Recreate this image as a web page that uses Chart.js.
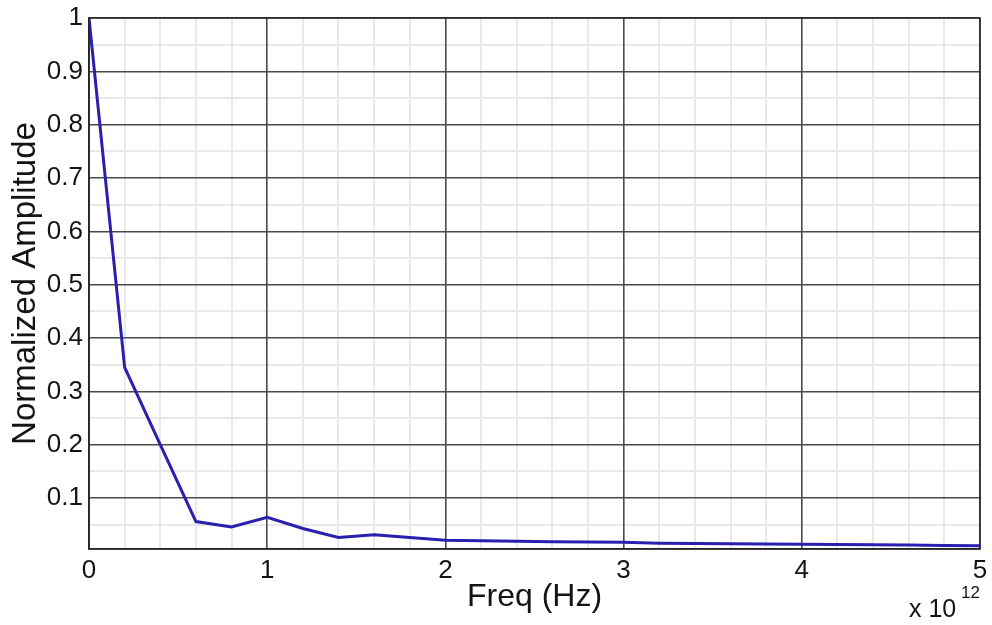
<!DOCTYPE html>
<html>
<head>
<meta charset="utf-8">
<title>Normalized Amplitude vs Frequency</title>
<script src="https://cdn.jsdelivr.net/npm/chart.js@4.4.1/dist/chart.umd.min.js"></script>
<style>
  html, body { margin: 0; padding: 0; background: #ffffff; }
  #wrap { width: 992px; height: 625px; }
</style>
</head>
<body>
<div id="wrap"><canvas id="spectrum" width="992" height="625"></canvas></div>
<script>
// Frequency samples, in units of 10^12 Hz
const freq = [0, 0.2, 0.4, 0.6, 0.8, 1.0, 1.2, 1.4, 1.6, 1.8, 2.0, 2.2, 2.4, 2.6,
              2.8, 3.0, 3.2, 3.4, 3.6, 3.8, 4.0, 4.2, 4.4, 4.6, 4.8, 5.0];
// Normalized spectral amplitude at each frequency sample
const amplitude = [1.0, 0.345, 0.200, 0.056, 0.046, 0.064, 0.043, 0.026, 0.031, 0.026,
                   0.021, 0.020, 0.019, 0.018, 0.0175, 0.017, 0.0155, 0.015, 0.0145,
                   0.014, 0.0135, 0.013, 0.0125, 0.012, 0.0112, 0.0105];
// Axis ticks: labelled (major) and unlabelled (minor) grid positions
const xMajorTicks = [0, 1, 2, 3, 4, 5];
const xMinorTicks = [0.2, 0.4, 0.6, 0.8, 1.2, 1.4, 1.6, 1.8, 2.2, 2.4, 2.6, 2.8,
                     3.2, 3.4, 3.6, 3.8, 4.2, 4.4, 4.6, 4.8];
const yMajorTicks = [0.1, 0.2, 0.3, 0.4, 0.5, 0.6, 0.7, 0.8, 0.9, 1.0];
const yMinorTicks = [0.05, 0.15, 0.25, 0.35, 0.45, 0.55, 0.65, 0.75, 0.85, 0.95];
const xRange = [0, 5];
const yRange = [0.0045, 1];

const FONT = "'Liberation Sans', Arial, Helvetica, sans-serif";
const INK = '#141414';

Chart.defaults.font.family = FONT;
Chart.defaults.color = INK;

const points = freq.map((f, i) => ({ x: f, y: amplitude[i] }));

function setTicks(list) {
  return function (scale) { scale.ticks = list.map(v => ({ value: v })); };
}

// Box around the plot area and the exponent note under the x axis
const framePlugin = {
  id: 'frame',
  afterDraw(chart) {
    const { ctx, chartArea: a } = chart;
    ctx.save();
    ctx.strokeStyle = '#262626';
    ctx.lineWidth = 1.5;
    ctx.strokeRect(a.left, a.top, a.right - a.left, a.bottom - a.top);
    ctx.fillStyle = INK;
    ctx.textBaseline = 'alphabetic';
    ctx.textAlign = 'left';
    ctx.font = '25px ' + FONT;
    ctx.fillText('x 10', 909, 617);
    ctx.font = '17px ' + FONT;
    ctx.fillText('12', 961, 598);
    ctx.restore();
  }
};

new Chart(document.getElementById('spectrum'), {
  type: 'line',
  data: {
    datasets: [{
      data: points,
      borderColor: '#2a1fae',
      borderWidth: 3,
      pointRadius: 0,
      tension: 0,
      fill: false
    }]
  },
  options: {
    responsive: false,
    animation: false,
    events: [],
    layout: { padding: { left: 0, right: 12, top: 18, bottom: 0 } },
    plugins: { legend: { display: false }, tooltip: { enabled: false } },
    scales: {
      x: {
        type: 'linear',
        position: 'bottom',
        min: xRange[0], max: xRange[1],
        afterBuildTicks: setTicks(xMajorTicks),
        afterFit(s) { s.height = 76; s.paddingLeft = 0; s.paddingRight = 0; },
        grid: { color: '#4a4a4a', lineWidth: 1.6, drawTicks: false, z: -1 },
        border: { display: true, color: '#262626', width: 1.5 },
        ticks: {
          padding: 6,
          maxRotation: 0,
          autoSkip: false,
          font: { size: 26 },
          callback: v => String(Math.round(v))
        },
        title: {
          display: true,
          text: 'Freq (Hz)',
          font: { size: 32 },
          padding: { top: 0, bottom: 9 }
        }
      },
      xMinor: {
        type: 'linear',
        position: 'bottom',
        min: xRange[0], max: xRange[1],
        afterBuildTicks: setTicks(xMinorTicks),
        afterFit(s) { s.height = 0; s.paddingLeft = 0; s.paddingRight = 0; },
        grid: { color: '#e9e9e9', lineWidth: 2, drawTicks: false, z: -2 },
        border: { display: false },
        ticks: { display: false }
      },
      y: {
        type: 'linear',
        position: 'left',
        min: yRange[0], max: yRange[1],
        afterBuildTicks: setTicks(yMajorTicks),
        afterFit(s) { s.width = 89; s.paddingTop = 0; s.paddingBottom = 0; },
        grid: { color: '#4a4a4a', lineWidth: 1.6, drawTicks: false, z: -1 },
        border: { display: true, color: '#262626', width: 1.5 },
        ticks: {
          padding: 6,
          autoSkip: false,
          font: { size: 26 },
          callback: v => (Math.abs(v - 1) < 1e-9 ? '1' : v.toFixed(1))
        },
        title: {
          display: true,
          text: 'Normalized Amplitude',
          font: { size: 33 },
          padding: { top: 6, bottom: 0 }
        }
      },
      yMinor: {
        type: 'linear',
        position: 'left',
        min: yRange[0], max: yRange[1],
        afterBuildTicks: setTicks(yMinorTicks),
        afterFit(s) { s.width = 0; s.paddingTop = 0; s.paddingBottom = 0; },
        grid: { color: '#e9e9e9', lineWidth: 2, drawTicks: false, z: -2 },
        border: { display: false },
        ticks: { display: false }
      }
    }
  },
  plugins: [framePlugin]
});
</script>
</body>
</html>
